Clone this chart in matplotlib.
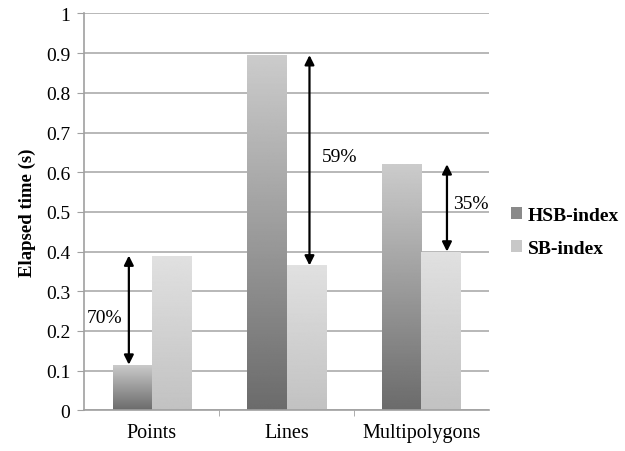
import numpy as np
import matplotlib
matplotlib.use('Agg')
import matplotlib.pyplot as plt
from matplotlib.patches import Patch

categories = ['Points', 'Lines', 'Multipolygons']
hsb_index = [0.115, 0.895, 0.62]
sb_index = [0.39, 0.365, 0.40]
gains = ['70%', '59%', '35%']
y_ticks = [0, 0.1, 0.2, 0.3, 0.4, 0.5, 0.6, 0.7, 0.8, 0.9, 1]
y_tick_labels = ['0', '0.1', '0.2', '0.3', '0.4', '0.5', '0.6', '0.7', '0.8', '0.9', '1']

plt.rcParams['font.family'] = 'Liberation Serif'

fig = plt.figure(figsize=(6.25, 4.52), dpi=100)
ax = fig.add_axes([0.135, 0.09, 0.647, 0.878])

width = 0.29
x = np.arange(len(categories))


def gradient_bars(xs, heights, c_bottom, c_top):
    bars = ax.bar(xs, heights, width, color='none', edgecolor='none', zorder=2)
    grad = np.linspace(c_bottom, c_top, 256).reshape(-1, 1)
    for b in bars:
        x0, y0 = b.get_x(), b.get_y()
        im = ax.imshow(grad, cmap='gray', vmin=0, vmax=1, origin='lower',
                       extent=[x0, x0 + b.get_width(), y0, y0 + b.get_height()],
                       aspect='auto', zorder=2)
        im.set_clip_path(b)
    return bars


gradient_bars(x - width / 2, hsb_index, 0.42, 0.80)
gradient_bars(x + width / 2, sb_index, 0.76, 0.88)

# arrows showing the improvement between the two indexes
arrow_x = [-0.17, 0.17, 0.19]
label_pos = [(-0.35, 0.235), (0.39, 0.64), (0.37, 0.52)]
for i in range(len(categories)):
    lo = min(hsb_index[i], sb_index[i])
    hi = max(hsb_index[i], sb_index[i])
    ax.annotate('', xy=(x[i] + arrow_x[i], hi), xytext=(x[i] + arrow_x[i], lo),
                arrowprops=dict(arrowstyle='<|-|>', color='black', lw=1.6,
                                mutation_scale=14, shrinkA=0, shrinkB=0),
                zorder=4)
    ax.text(x[i] + label_pos[i][0], label_pos[i][1], gains[i], fontsize=14,
            ha='center', va='center', zorder=4)

ax.set_xlim(-0.5, 2.5)
ax.set_ylim(0, 1)
ax.set_yticks(y_ticks)
ax.set_yticklabels(y_tick_labels, fontsize=14)
ax.set_xticks(x)
ax.set_xticklabels(categories, fontsize=14.5)
ax.set_xticks([0.5, 1.5], minor=True)
ax.tick_params(axis='x', which='major', length=0, pad=9)
ax.tick_params(axis='x', which='minor', length=4, color='#a0a0a0')
ax.tick_params(axis='y', length=5, color='#a0a0a0', pad=5)
ax.yaxis.grid(True, color='#b8b8b8', lw=1.4)
ax.set_axisbelow(True)
for s in ['top', 'right']:
    ax.spines[s].set_visible(False)
for s in ['left', 'bottom']:
    ax.spines[s].set_color('#a0a0a0')
    ax.spines[s].set_linewidth(1.2)

ax.set_ylabel('Elapsed time (s)', fontsize=13.5, fontweight='bold', labelpad=7)

handles = [Patch(facecolor='#8a8a8a', edgecolor='none'),
           Patch(facecolor='#c8c8c8', edgecolor='none')]
fig.legend(handles, ['HSB-index', 'SB-index'], loc='center left',
           bbox_to_anchor=(0.79, 0.485), frameon=False,
           prop={'family': 'Liberation Serif', 'weight': 'bold', 'size': 14},
           handlelength=0.55, handleheight=0.55, handletextpad=0.3, labelspacing=0.8)

fig.savefig('out.png', dpi=100)
